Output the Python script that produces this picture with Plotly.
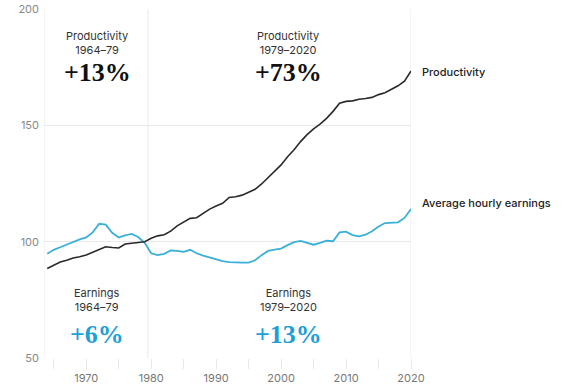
import plotly.graph_objects as go

years = list(range(1964, 2021))

productivity = [
    88.5, 90.0, 91.3, 92.0, 93.0, 93.5, 94.3, 95.5, 96.7, 97.8,
    97.5, 97.3, 99.0, 99.3, 99.8, 100.0, 101.5, 102.5, 103.0, 104.5,
    106.8, 108.5, 110.0, 110.3, 112.0, 114.0, 115.3, 116.5, 119.0, 119.3,
    120.0, 121.2, 122.5, 124.8, 127.5, 130.2, 133.0, 136.5, 139.5, 143.0,
    146.0, 148.5, 150.5, 153.0, 156.0, 159.5, 160.3, 160.5, 161.2, 161.5,
    162.0, 163.2, 164.0, 165.5, 167.0, 169.0, 173.4,
]

earnings = [
    94.8, 96.5, 97.6, 98.8, 100.0, 101.0, 101.8, 104.0, 107.7, 107.3,
    103.8, 101.8, 102.7, 103.3, 102.0, 99.5, 95.0, 94.2, 94.8, 96.2,
    96.0, 95.6, 96.5, 95.0, 94.0, 93.2, 92.2, 91.6, 91.2, 91.0,
    91.0, 91.0, 92.0, 94.2, 96.0, 96.6, 97.0, 98.5, 99.8, 100.3,
    99.5, 98.7, 99.5, 100.4, 100.2, 104.0, 104.3, 102.8, 102.3, 103.0,
    104.5, 106.5, 108.0, 108.2, 108.3, 110.2, 114.0,
]

y_ticks = [50, 100, 150, 200]
x_ticks = [1970, 1980, 1990, 2000, 2010, 2020]

BLACK = "#2a2a2a"
BLUE = "#3ab0d8"
BLUE_TXT = "#1e9fd8"
GRID = "#e9e9e9"
SANS = "Inter, Roboto, Arial, sans-serif"
SERIF = "Liberation Serif, DejaVu Serif, serif"

fig = go.Figure()
fig.add_trace(go.Scatter(x=years, y=earnings, mode="lines",
                         line=dict(color=BLUE, width=1.8), hoverinfo="skip"))
fig.add_trace(go.Scatter(x=years, y=productivity, mode="lines",
                         line=dict(color=BLACK, width=1.6), hoverinfo="skip"))

# frame lines
for xv in [1963.5, 1979.5, 2020]:
    fig.add_shape(type="line", xref="x", yref="y", x0=xv, x1=xv, y0=50, y1=200,
                  line=dict(color=GRID, width=1), layer="below")

anns = [
    dict(x=1971.7, y=185.6, text="Productivity<br>1964–79", font=dict(family=SANS, size=11, color="#333")),
    dict(x=1971.7, y=172.9, text="+13%", font=dict(family=SERIF, size=26, color="#111", weight="bold")),
    dict(x=2001.1, y=185.6, text="Productivity<br>1979–2020", font=dict(family=SANS, size=11, color="#333")),
    dict(x=2001.1, y=172.9, text="+73%", font=dict(family=SERIF, size=26, color="#111", weight="bold")),
    dict(x=1971.7, y=75.0, text="Earnings<br>1964–79", font=dict(family=SANS, size=11, color="#333")),
    dict(x=1971.7, y=59.9, text="+6%", font=dict(family=SERIF, size=26, color=BLUE_TXT, weight="bold")),
    dict(x=2001.1, y=75.0, text="Earnings<br>1979–2020", font=dict(family=SANS, size=11, color="#333")),
    dict(x=2001.1, y=59.9, text="+13%", font=dict(family=SERIF, size=26, color=BLUE_TXT, weight="bold")),
]
for a in anns:
    fig.add_annotation(xref="x", yref="y", showarrow=False, xanchor="center",
                       yanchor="middle", align="center", **a)

label_x = 1 + 9 / 367
fig.add_annotation(xref="paper", yref="y", x=label_x, y=172.9, text="Productivity",
                   showarrow=False, xanchor="left", yanchor="middle",
                   font=dict(family=SANS, size=11, color="#222", weight=500))
fig.add_annotation(xref="paper", yref="y", x=label_x, y=116.6, text="Average hourly earnings",
                   showarrow=False, xanchor="left", yanchor="middle",
                   font=dict(family=SANS, size=11, color="#222", weight=500))

fig.update_layout(
    width=570, height=391,
    margin=dict(l=44, r=159, t=9, b=33, autoexpand=False),
    paper_bgcolor="white", plot_bgcolor="white",
    showlegend=False,
    xaxis=dict(range=[1963.5, 2020], tickvals=x_ticks, showgrid=False, zeroline=False,
               ticks="outside", ticklen=10, tickcolor=GRID, tickwidth=1, automargin=False,
               minor=dict(dtick=5, tick0=1965, ticks="outside", ticklen=10, tickcolor=GRID, showgrid=False),
               tickfont=dict(family=SANS, size=11, color="#777"), showline=False,
               fixedrange=True),
    yaxis=dict(range=[50, 200], tickvals=y_ticks, showgrid=True, gridcolor=GRID, gridwidth=1,
               zeroline=False, ticks="", ticklabelstandoff=4, automargin=False,
               tickfont=dict(family=SANS, size=11, color="#888"), showline=False,
               fixedrange=True),
)

fig.write_html("out.html", config={"displayModeBar": False},
               post_script="document.body.style.margin='0';")
